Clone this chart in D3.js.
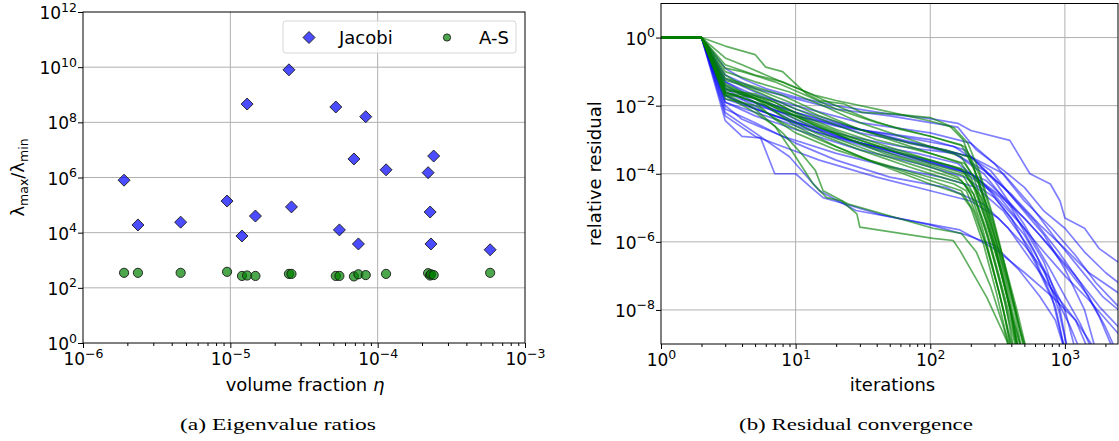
<!DOCTYPE html>
<html>
<head>
<meta charset="utf-8">
<script src="https://cdnjs.cloudflare.com/ajax/libs/d3/7.8.5/d3.min.js"></script>
<style>
  body { margin: 0; background: #fff; }
  text { font-family: "DejaVu Sans", sans-serif; fill: #000; }
</style>
</head>
<body>
<svg id="fig" width="1119" height="441"></svg>
<script>
// ---- panel (a): eigenvalue ratios per test matrix ----
var volFrac = [1.9e-6, 2.36e-6, 4.6e-6, 9.5e-6, 1.2e-5, 1.3e-5, 1.48e-5, 2.5e-5, 2.6e-5, 5.2e-5,
               5.5e-5, 6.9e-5, 7.4e-5, 8.3e-5, 1.14e-4, 2.2e-4, 2.27e-4, 2.3e-4, 2.4e-4, 5.8e-4];
var jacobiRatio = [8e5, 1.9e4, 2.4e4, 1.4e5, 7.6e3, 4.6e8, 4e4, 8e9, 8.6e4, 3.6e8,
                   1.26e4, 4.7e6, 3.9e3, 1.6e8, 1.9e6, 1.5e6, 5.6e4, 3.9e3, 6e6, 2.4e3];
var asRatio = [350, 350, 350, 380, 270, 280, 270, 320, 320, 270,
               270, 260, 310, 290, 320, 340, 280, 310, 290, 350];

var xTicksA = [1e-6, 1e-5, 1e-4, 1e-3];
var yTicksA = [1e0, 1e2, 1e4, 1e6, 1e8, 1e10, 1e12];

// ---- panel (b): residual histories, [iteration, log10 relative residual] ----
var runStart = [[1, 0], [2, 0]];
var jacobiRuns = [
  [[3,-0.9],[4,-1.2],[6,-1.5],[10,-1.75],[20,-2.0],[50,-2.25],[100,-2.38],[160,-2.52],[200,-2.73],[390,-3.02],[550,-4.0],[780,-4.3],[920,-4.8],[1000,-5.3],[1400,-5.6],[1800,-6.2],[2500,-6.6]],
  [[3,-1.1],[5,-1.5],[8,-1.7],[20,-2.1],[50,-2.3],[100,-2.5],[160,-2.63],[220,-3.3],[350,-3.9],[500,-4.4],[700,-5.1],[1000,-5.6],[1400,-6.3],[2000,-6.9],[2500,-7.2]],
  [[3,-1.3],[5,-1.7],[10,-2.0],[30,-2.5],[100,-2.8],[200,-3.1],[300,-3.7],[500,-4.8],[800,-5.6],[1200,-6.4],[1700,-7.2],[2500,-7.9]],
  [[3,-1.5],[6,-1.9],[12,-2.3],[30,-2.8],[100,-3.2],[200,-3.5],[350,-4.4],[600,-5.4],[900,-6.3],[1300,-7.2],[1800,-8.2],[2300,-9.2]],
  [[3,-1.6],[5,-2.0],[10,-2.3],[30,-2.7],[100,-3.0],[180,-3.3],[300,-4.2],[500,-5.5],[750,-6.7],[1000,-7.6],[1300,-8.4],[1600,-9.2]],
  [[3,-1.7],[6,-2.2],[15,-2.8],[40,-3.3],[100,-3.7],[200,-4.0],[330,-4.7],[500,-5.6],[700,-6.6],[900,-7.8],[1050,-9.2]],
  [[3,-1.8],[5,-2.1],[10,-2.5],[25,-2.9],[60,-3.2],[150,-3.4],[250,-4.0],[400,-5.0],[600,-6.3],[800,-7.4],[1100,-8.5],[1300,-9.2]],
  [[3,-2.0],[4,-2.4],[8,-2.9],[20,-3.4],[50,-3.8],[120,-4.1],[220,-4.4],[350,-5.1],[550,-6.2],[800,-7.6],[1000,-9.2]],
  [[3,-1.4],[5,-1.9],[9,-2.4],[20,-2.9],[60,-3.4],[150,-3.8],[260,-4.2],[400,-4.9],[650,-5.8],[1000,-6.7],[1500,-7.6],[2000,-8.5],[2400,-9.2]],
  [[3,-1.9],[6,-2.3],[12,-2.7],[30,-3.1],[80,-3.4],[160,-3.7],[250,-4.3],[400,-5.3],[600,-6.6],[850,-7.9],[1000,-9.2]],
  [[3,-2.44],[4,-2.9],[5.5,-2.95],[7,-4.0],[10,-4.0],[13,-4.4],[16,-4.7],[24,-4.9],[43,-5.2],[100,-5.5],[185,-5.8],[300,-6.1],[450,-6.8],[650,-7.6],[850,-8.3],[1000,-9.2]],
  [[3,-2.2],[5,-2.8],[9,-3.5],[15,-4.5],[28,-5.08],[105,-5.5],[166,-5.65],[300,-6.2],[500,-6.9],[800,-7.6],[1200,-8.3],[1700,-9.2]],
  [[3,-1.2],[5,-1.6],[10,-2.1],[25,-2.6],[70,-3.1],[150,-3.4],[250,-3.9],[400,-4.6],[650,-5.5],[1000,-6.2],[1500,-6.9],[2500,-7.5]],
  [[3,-1.6],[6,-2.0],[10,-2.4],[25,-3.0],[70,-3.5],[170,-3.9],[280,-4.5],[450,-5.4],[700,-6.3],[1000,-7.0],[1500,-7.7],[2500,-8.7]],
  [[3,-2.1],[5,-2.5],[10,-3.1],[20,-3.6],[50,-4.1],[130,-4.4],[250,-4.9],[380,-5.6],[550,-6.5],[800,-7.4],[1200,-8.3],[1500,-9.2]],
  [[3,-1.7],[5,-2.1],[10,-2.5],[30,-3.1],[90,-3.6],[200,-4.0],[320,-4.6],[500,-5.3],[800,-6.2],[1200,-7.0],[1800,-7.9],[2500,-8.5]],
  [[3,-1.5],[4,-1.8],[8,-2.2],[20,-2.6],[60,-2.9],[150,-3.2],[280,-3.9],[450,-4.9],[700,-5.8],[1000,-6.8],[1400,-8.0],[1700,-9.2]],
  [[3,-2.3],[5,-2.9],[8,-3.2],[15,-3.6],[40,-4.1],[100,-4.5],[200,-4.8],[320,-5.3],[500,-6.1],[750,-7.0],[1000,-8.0],[1200,-9.2]],
  [[3,-1.9],[5,-2.3],[10,-2.7],[30,-3.3],[80,-3.7],[180,-4.1],[300,-4.7],[500,-5.8],[700,-6.8],[900,-8.0],[1050,-9.2]],
  [[3,-1.3],[5,-1.8],[10,-2.2],[30,-2.7],[100,-3.2],[200,-3.5],[350,-4.0],[550,-4.9],[850,-5.9],[1300,-6.8],[1900,-7.6],[2500,-8.0]]
];
var asRuns = [
  [[3,-0.25],[5,-0.5],[6,-0.87],[8,-1.0],[10,-1.36],[12,-1.65],[15,-1.85],[23,-1.95],[31,-2.2],[55,-2.25],[100,-2.35],[140,-2.6],[175,-3.0],[210,-3.8],[250,-4.8],[300,-6.0],[360,-7.3],[420,-8.4],[480,-9.2]],
  [[3,-0.6],[4,-0.8],[6,-1.1],[9,-1.4],[14,-1.7],[20,-1.85],[40,-2.1],[100,-2.45],[150,-2.65],[190,-3.1],[230,-3.9],[280,-5.0],[330,-6.1],[400,-7.5],[470,-8.7],[510,-9.2]],
  [[3,-0.8],[5,-1.1],[8,-1.3],[12,-1.6],[20,-2.0],[35,-2.4],[60,-2.7],[100,-2.9],[170,-3.15],[210,-3.8],[260,-4.9],[320,-6.3],[380,-7.5],[450,-8.8],[480,-9.2]],
  [[3,-1.0],[5,-1.3],[9,-1.6],[16,-2.0],[30,-2.5],[60,-2.9],[100,-3.2],[170,-3.5],[210,-4.1],[260,-5.2],[310,-6.3],[370,-7.6],[430,-8.7],[460,-9.2]],
  [[3,-1.2],[5,-1.45],[8,-1.7],[15,-2.2],[30,-2.7],[60,-3.1],[100,-3.4],[170,-3.7],[200,-4.1],[250,-5.1],[300,-6.1],[360,-7.3],[420,-8.5],[450,-9.2]],
  [[3,-1.35],[4,-1.6],[7,-1.9],[12,-2.4],[25,-2.9],[50,-3.3],[100,-3.6],[170,-3.85],[210,-4.4],[260,-5.4],[320,-6.6],[390,-7.9],[440,-9.2]],
  [[3,-1.55],[5,-1.65],[7,-1.9],[10,-2.2],[20,-2.7],[40,-3.1],[100,-3.6],[180,-3.9],[220,-4.5],[270,-5.6],[330,-6.8],[400,-8.1],[450,-9.2]],
  [[3,-1.65],[5,-1.7],[8,-2.1],[14,-2.6],[30,-3.1],[60,-3.5],[100,-3.75],[175,-4.05],[210,-4.6],[250,-5.5],[300,-6.6],[360,-7.8],[420,-9.2]],
  [[3,-1.7],[5,-1.75],[9,-2.3],[18,-2.9],[40,-3.4],[100,-3.9],[170,-4.2],[200,-4.6],[240,-5.5],[290,-6.7],[350,-8.0],[400,-9.2]],
  [[3,-1.5],[5,-1.8],[8,-2.3],[14,-2.8],[30,-3.3],[70,-3.8],[120,-4.1],[180,-4.3],[220,-4.9],[270,-5.9],[330,-7.2],[390,-8.4],[440,-9.2]],
  [[3,-1.8],[5,-2.0],[8,-2.5],[15,-3.0],[35,-3.6],[80,-4.0],[150,-4.3],[185,-4.5],[220,-5.2],[270,-6.3],[330,-7.6],[380,-8.7],[410,-9.2]],
  [[3,-1.1],[4,-1.4],[6,-1.7],[10,-2.1],[18,-2.5],[40,-3.0],[100,-3.4],[180,-3.7],[230,-4.3],[290,-5.4],[360,-6.7],[440,-8.0],[520,-9.2]],
  [[3,-1.4],[5,-1.8],[10,-2.3],[20,-2.8],[50,-3.3],[100,-3.7],[180,-4.0],[240,-4.7],[300,-5.8],[380,-7.2],[460,-8.5],[520,-9.2]],
  [[3,-0.9],[4,-1.0],[7,-1.3],[12,-1.7],[20,-2.1],[40,-2.5],[100,-2.9],[180,-3.2],[230,-4.0],[290,-5.3],[350,-6.6],[430,-8.0],[500,-9.2]],
  [[3,-1.6],[5,-1.9],[7,-2.4],[10,-2.8],[20,-3.3],[50,-3.8],[100,-4.2],[170,-4.5],[210,-5.1],[260,-6.1],[320,-7.4],[380,-8.6],[420,-9.2]],
  [[3,-1.7],[5,-2.2],[7,-2.6],[10,-3.5],[13.5,-4.3],[17,-4.7],[22,-4.8],[28.5,-5.18],[30,-5.57],[105,-5.9],[148,-5.96],[166,-6.25],[196,-6.75],[263,-7.63],[370,-8.9],[390,-9.2]],
  [[3,-1.65],[5,-2.1],[8,-2.8],[11,-3.4],[14,-3.9],[16,-4.5],[25,-4.9],[105,-5.6],[170,-5.75],[220,-6.3],[280,-7.3],[350,-8.5],[390,-9.2]],
  [[3,-1.6],[6,-2.0],[10,-2.6],[20,-3.2],[40,-3.7],[100,-4.3],[170,-4.6],[200,-5.0],[250,-6.1],[310,-7.5],[360,-8.6],[400,-9.2]],
  [[3,-1.25],[5,-1.5],[9,-1.9],[15,-2.3],[30,-2.7],[70,-3.1],[130,-3.3],[190,-3.5],[230,-4.2],[280,-5.3],[340,-6.6],[420,-8.0],[480,-9.2]],
  [[3,-1.45],[6,-1.9],[11,-2.4],[22,-2.9],[45,-3.4],[100,-3.8],[160,-4.1],[210,-4.6],[260,-5.6],[320,-6.9],[390,-8.2],[450,-9.2]]
];

var xTicksB = [1e0, 1e1, 1e2, 1e3];
var yTicksB = [1e-8, 1e-6, 1e-4, 1e-2, 1e0];

var svg = d3.select("#fig");
svg.append("rect").attr("width", 1119).attr("height", 441).attr("fill", "#fff");

var A = { left: 83, right: 525, top: 12, bottom: 343 };
var B = { left: 661, right: 1118, top: 3.5, bottom: 344 };

var xA = d3.scaleLog().domain([1e-6, 1e-3]).range([A.left, A.right]);
var yA = d3.scaleLog().domain([1, 1e12]).range([A.bottom, A.top]);
var xB = d3.scaleLog().domain([1, 2480]).range([B.left, B.right]);
var yB = d3.scaleLog().domain([1e-9, 10]).range([B.bottom, B.top]);

// exponent label like 10^-6
function powLabel(sel, v) {
  var e = Math.round(Math.log10(v));
  sel.text(null);
  sel.append("tspan").text("10");
  sel.append("tspan").attr("dy", -7.5).attr("font-size", 12.5)
    .text(e < 0 ? "\u2212" + (-e) : String(e));
}

function grid(g, P, xs, ys, xt, yt) {
  g.selectAll(".gx").data(xt.filter(function (t) { return xs(t) > P.left + 1 && xs(t) < P.right - 1; }))
    .enter().append("line")
    .attr("x1", function (d) { return xs(d); }).attr("x2", function (d) { return xs(d); })
    .attr("y1", P.top).attr("y2", P.bottom)
    .attr("stroke", "#b0b0b0").attr("stroke-width", 1);
  g.selectAll(".gy").data(yt.filter(function (t) { return ys(t) > P.top + 1 && ys(t) < P.bottom - 1; }))
    .enter().append("line")
    .attr("y1", function (d) { return ys(d); }).attr("y2", function (d) { return ys(d); })
    .attr("x1", P.left).attr("x2", P.right)
    .attr("stroke", "#b0b0b0").attr("stroke-width", 1);
}

function axes(g, P, xs, ys, xt, yt, xMinor, yMinor) {
  // frame
  g.append("rect").attr("x", P.left).attr("y", P.top)
    .attr("width", P.right - P.left).attr("height", P.bottom - P.top)
    .attr("fill", "none").attr("stroke", "#000").attr("stroke-width", 1);

  var xAxis = d3.axisBottom(xs).tickValues(xt).tickSize(5).tickFormat("");
  var gx = g.append("g").attr("transform", "translate(0," + P.bottom + ")").call(xAxis);
  gx.select(".domain").remove();
  gx.selectAll(".tick text").remove();
  gx.selectAll(".tick").append("text")
    .attr("y", 22).attr("text-anchor", "middle").attr("font-size", 17)
    .each(function (d) { powLabel(d3.select(this), d); });
  if (xMinor.length) {
    var gxm = g.append("g").attr("transform", "translate(0," + P.bottom + ")")
      .call(d3.axisBottom(xs).tickValues(xMinor).tickSize(3).tickFormat(""));
    gxm.select(".domain").remove();
  }

  var yAxis = d3.axisLeft(ys).tickValues(yt).tickSize(5).tickFormat("");
  var gy = g.append("g").attr("transform", "translate(" + P.left + ",0)").call(yAxis);
  gy.select(".domain").remove();
  gy.selectAll(".tick text").remove();
  gy.selectAll(".tick").append("text")
    .attr("x", -6).attr("y", 6.5).attr("text-anchor", "end").attr("font-size", 17)
    .each(function (d) { powLabel(d3.select(this), d); });
  if (yMinor.length) {
    var gym = g.append("g").attr("transform", "translate(" + P.left + ",0)")
      .call(d3.axisLeft(ys).tickValues(yMinor).tickSize(3).tickFormat(""));
    gym.select(".domain").remove();
  }
  g.selectAll(".tick line").attr("stroke", "#000").attr("stroke-width", 1);
}

function isDecade(t) { return Math.abs(Math.log10(t) - Math.round(Math.log10(t))) < 1e-6; }

// ================= panel (a) =================
var ga = svg.append("g");
grid(ga, A, xA, yA, xTicksA, yTicksA);

var diamond = "M0,-6L6,0L0,6L-6,0Z";
ga.selectAll(".jac").data(volFrac).enter().append("path")
  .attr("d", diamond)
  .attr("transform", function (d, i) { return "translate(" + xA(d) + "," + yA(jacobiRatio[i]) + ")"; })
  .attr("fill", "#0000ff").attr("fill-opacity", 0.7)
  .attr("stroke", "#1a1a1a").attr("stroke-width", 0.9);

ga.selectAll(".as").data(volFrac).enter().append("circle")
  .attr("cx", function (d) { return xA(d); })
  .attr("cy", function (d, i) { return yA(asRatio[i]); })
  .attr("r", 4.6)
  .attr("fill", "#008000").attr("fill-opacity", 0.7)
  .attr("stroke", "#1a1a1a").attr("stroke-width", 0.9);

var xMinorA = xA.ticks().filter(function (t) { return !isDecade(t); });
axes(ga, A, xA, yA, xTicksA, yTicksA, xMinorA, []);

// legend
var lg = ga.append("g");
lg.append("rect").attr("x", 283).attr("y", 21).attr("width", 233).attr("height", 32)
  .attr("rx", 3).attr("fill", "#fff").attr("fill-opacity", 0.8)
  .attr("stroke", "#d6d6d6").attr("stroke-width", 1);
lg.append("path").attr("d", diamond).attr("transform", "translate(309,37.5)")
  .attr("fill", "#0000ff").attr("fill-opacity", 0.7)
  .attr("stroke", "#1a1a1a").attr("stroke-width", 0.9);
lg.append("text").attr("x", 339).attr("y", 43.5).attr("font-size", 18).text("Jacobi");
lg.append("circle").attr("cx", 447).attr("cy", 37.5).attr("r", 3.6)
  .attr("fill", "#008000").attr("fill-opacity", 0.7)
  .attr("stroke", "#1a1a1a").attr("stroke-width", 0.9);
lg.append("text").attr("x", 479).attr("y", 43.5).attr("font-size", 18).text("A-S");

// labels
ga.append("text").attr("x", (A.left + A.right) / 2 + 1).attr("y", 391)
  .attr("text-anchor", "middle").attr("font-size", 18)
  .call(function (t) {
    t.append("tspan").text("volume fraction ");
    t.append("tspan").attr("font-style", "italic").text("\u03b7");
  });
ga.append("text")
  .attr("transform", "translate(24," + (A.top + A.bottom) / 2 + ") rotate(-90)")
  .attr("text-anchor", "middle").attr("font-size", 18)
  .call(function (t) {
    t.append("tspan").text("\u03bb");
    t.append("tspan").attr("font-size", 12.5).attr("dy", 4).text("max");
    t.append("tspan").attr("dy", -4).text("/\u03bb");
    t.append("tspan").attr("font-size", 12.5).attr("dy", 4).text("min");
  });

// ================= panel (b) =================
var gb = svg.append("g");
grid(gb, B, xB, yB, xTicksB, yTicksB);

svg.append("clipPath").attr("id", "clipB").append("rect")
  .attr("x", B.left).attr("y", B.top)
  .attr("width", B.right - B.left).attr("height", B.bottom - B.top);

var line = d3.line()
  .x(function (d) { return xB(d[0]); })
  .y(function (d) { return yB(Math.pow(10, d[1])); });

var lines = gb.append("g").attr("clip-path", "url(#clipB)");
jacobiRuns.forEach(function (run) {
  lines.append("path").datum(runStart.concat(run))
    .attr("d", line).attr("fill", "none")
    .attr("stroke", "#0000ff").attr("stroke-opacity", 0.5).attr("stroke-width", 1.7)
    .attr("stroke-linejoin", "round");
});
asRuns.forEach(function (run) {
  lines.append("path").datum(runStart.concat(run))
    .attr("d", line).attr("fill", "none")
    .attr("stroke", "#008000").attr("stroke-opacity", 0.62).attr("stroke-width", 1.7)
    .attr("stroke-linejoin", "round");
});

var xMinorB = xB.ticks().filter(function (t) { return !isDecade(t) && t < 2480; });
var yMinorB = yB.ticks().filter(function (t) {
  return !isDecade(t) && Math.floor(Math.log10(t) + 1e-9) % 2 === 0;
});
axes(gb, B, xB, yB, xTicksB, yTicksB, xMinorB, yMinorB);

gb.append("text").attr("x", (B.left + B.right) / 2 + 3).attr("y", 391)
  .attr("text-anchor", "middle").attr("font-size", 18).text("iterations");
gb.append("text")
  .attr("transform", "translate(601," + (B.top + B.bottom) / 2 + ") rotate(-90)")
  .attr("text-anchor", "middle").attr("font-size", 18).text("relative residual");

// captions
svg.append("text").attr("x", 278).attr("y", 430).attr("text-anchor", "middle")
  .style("font-family", "Liberation Serif, serif")
  .attr("font-size", 17).attr("textLength", 196).attr("lengthAdjust", "spacingAndGlyphs")
  .text("(a) Eigenvalue ratios");
svg.append("text").attr("x", 856).attr("y", 430).attr("text-anchor", "middle")
  .style("font-family", "Liberation Serif, serif")
  .attr("font-size", 17).attr("textLength", 234).attr("lengthAdjust", "spacingAndGlyphs")
  .text("(b) Residual convergence");
</script>
</body>
</html>
